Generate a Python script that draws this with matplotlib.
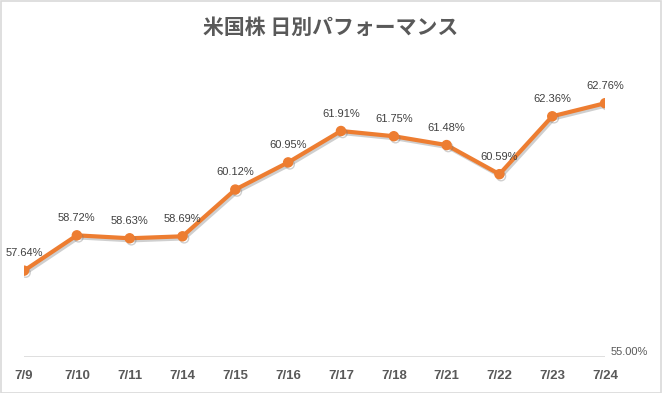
import matplotlib
matplotlib.use('Agg')
import matplotlib.pyplot as plt
import matplotlib.patheffects as pe
from matplotlib.patches import Rectangle

dates = ['7/9', '7/10', '7/11', '7/14', '7/15', '7/16', '7/17', '7/18', '7/21', '7/22', '7/23', '7/24']
perf = [57.64, 58.72, 58.63, 58.69, 60.12, 60.95, 61.91, 61.75, 61.48, 60.59, 62.36, 62.76]
title = '米国株 日別パフォーマンス'

orange = '#ED7D31'
grey = '#595959'

fig = plt.figure(figsize=(6.62, 3.93), dpi=100)
fig.patches.append(Rectangle((0.001, 0.001), 0.997, 0.996, transform=fig.transFigure,
                             fill=False, edgecolor='#D9D9D9', linewidth=1.2))

ax = fig.add_axes([0.0363, 0.0916, 0.8777, 0.749])
x = list(range(len(dates)))

# 影付きの線
ax.plot(x, perf, color=orange, linewidth=3, marker='o', markersize=6.5,
        solid_joinstyle='round', solid_capstyle='round', zorder=3,
        path_effects=[pe.SimpleLineShadow(offset=(1.2, -1.5), shadow_color='#777777', alpha=0.35), pe.Normal()])

for i, v in enumerate(perf):
    ax.annotate(f'{v:.2f}%', (i, v), xytext=(0, 9), textcoords='offset points',
                ha='center', va='bottom', fontsize=8, color='#404040', family='Liberation Sans')

ax.set_xlim(0, len(dates) - 1)
ax.set_ylim(55, 64)
for s in ax.spines.values():
    s.set_visible(False)
ax.axhline(55, color='#D9D9D9', linewidth=1.2, zorder=1)
ax.set_yticks([])
ax.set_xticks(x)
ax.set_xticklabels(dates, fontsize=9.5, fontweight='bold', color=grey, family='Liberation Sans')
ax.tick_params(axis='x', length=0, pad=9)
ax.text(1.01, 55, '55.00%', transform=ax.get_yaxis_transform(), ha='left', va='bottom',
        fontsize=8, color=grey, family='Liberation Sans')

fig.text(0.5, 0.93, title, ha='center', va='center', fontsize=15, fontweight='bold', color=grey,
         family=['Noto Sans CJK JP', 'DejaVu Sans'])

fig.savefig('out.png', dpi=100)
